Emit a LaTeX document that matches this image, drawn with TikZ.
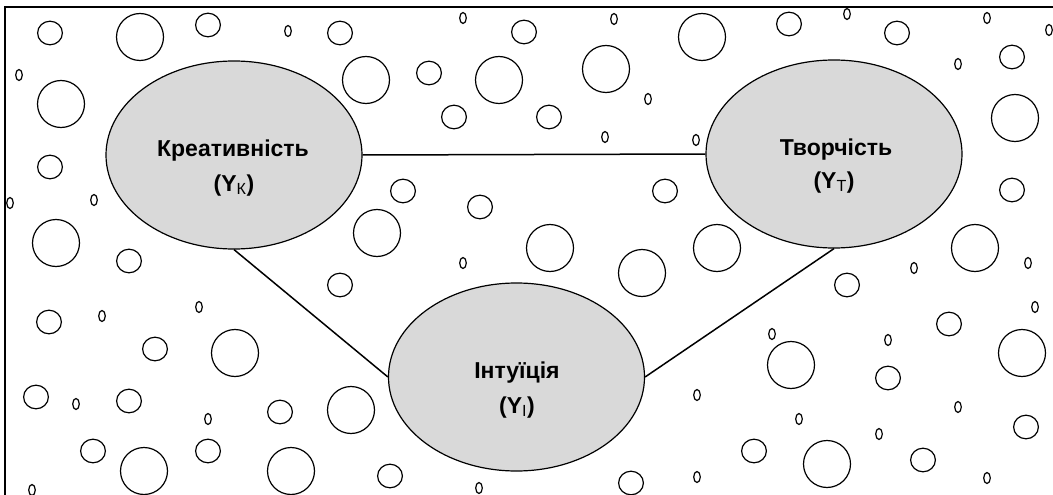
\documentclass[tikz,border=0pt]{standalone}
\usepackage{fontspec}
\setmainfont{Liberation Sans}
\usetikzlibrary{shapes.geometric}
\definecolor{bubblegray}{HTML}{D9D9D9}
\tikzset{
  sc/.style={draw=black, line width=1.2pt, x radius=3.3, y radius=5.5},
  mc/.style={draw=black, line width=1.2pt, x radius=12.4, y radius=11.8},
  bc/.style={draw=black, line width=1.2pt, radius=23.5},
  bub/.style={ellipse, draw=black, line width=1.2pt, fill=bubblegray, inner sep=0pt, minimum width=256pt, minimum height=188pt},
  lbl/.style={font=\bfseries\fontsize{23}{33}\selectfont, align=center, inner sep=0pt},
  link/.style={draw=black, line width=1.5pt},
  frame/.style={draw=black, line width=2pt}
}
\newcommand{\lowsub}[1]{\textsubscript{\mdseries #1}}
\begin{document}
\begin{tikzpicture}[x=1pt, y=-1pt]
\useasboundingbox (0,0) rectangle (1053,495);
\clip (0,0) rectangle (1053,495);
% small circles
\foreach \p in {(19,75),(10,203),(94,200),(288,31),(463,18),(614,19),(648,99),(605,137),(696,140),(847,14),(987,18),(1049,30),(958,64),(199,307),(102,316),(76,404),(208,419),(32,490),(463,263),(479,488),(772,334),(697,395),(697,477),(914,268),(1028,263),(1035,307),(888,340),(958,407),(799,419),(879,434),(987,478)}
  \draw[sc] \p ellipse [];
% medium circles
\foreach \p in {(50,33),(208,25),(50,167),(340,33),(524,32),(429,73),(454,117),(403,191),(480,207),(549,117),(665,191),(789,24),(897,33),(1012,57),(1012,190),(129,261),(49,322),(155,349),(36,397),(129,401),(93,451),(208,451),(340,285),(280,412),(390,476),(754,451),(631,483),(847,285),(949,324),(888,378),(1026,427),(923,460)}
  \draw[mc] \p ellipse [];
% big circles
\foreach \p in {(140,37),(61,104),(56,243),(366,80),(499,80),(377,233),(702,37),(606,69),(1015,118),(550,248),(717,248),(975,248),(235,353),(642,273),(351,410),(291,471),(144,471),(791,365),(1022,353),(827,464)}
  \draw[bc] \p circle [];
% frame (left and top edges)
\coordinate (fbl) at (5,500);
\coordinate (ftl) at (5,7);
\coordinate (ftr) at (1060,7);
\draw[frame] (fbl) -- (ftl) -- (ftr);
% main ellipses
\node[bub] (k) at (234,155) {};
\node[bub] (t) at (834,154) {};
\node[bub] (i) at (516.5,377) {};
\draw[link] (k.east) -- (t.west);
\draw[link] (k.south) -- (i.west);
\draw[link] (i.east) -- (t.south);
% labels
\node[lbl, anchor=base] (kl) at (233,157) {Креативність};
\node[lbl, anchor=base] (kl2) at (234,191) {(Y\lowsub{К})};
\node[lbl, anchor=base] (tl) at (836,155) {Творчість};
\node[lbl, anchor=base] (tl2) at (834,188) {(Y\lowsub{Т})};
\node[lbl, anchor=base] (il) at (517,378) {Інтуїція};
\node[lbl, anchor=base] (il2) at (517,413) {(Y\lowsub{І})};
\end{tikzpicture}
\end{document}
